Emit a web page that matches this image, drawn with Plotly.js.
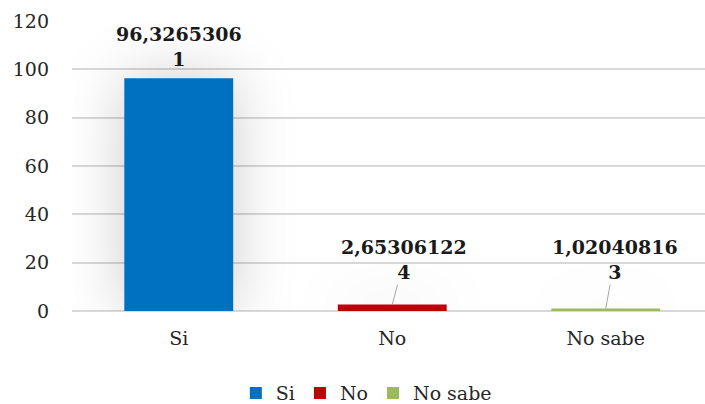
<!DOCTYPE html>
<html>
<head>
<meta charset="utf-8">
<script src="https://cdn.plot.ly/plotly-3.0.1.min.js"></script>
<style>
  html, body { margin: 0; padding: 0; background: #ffffff; }
  #chart { width: 705px; height: 404px; }
  /* soft glow around each bar */
  #chart .trace.bars .point path { filter: drop-shadow(0 0 30px rgba(0,0,0,0.2)); }
</style>
</head>
<body>
<div id="chart"></div>
<script>
const categories = ['Si', 'No', 'No sabe'];
const values = [96.32653061, 2.653061224, 1.020408163];
const colors = ['#0070C0', '#C00000', '#9BBB59'];
const yTicks = [0, 20, 40, 60, 80, 100, 120];

const FONT = '"DejaVu Serif", "Liberation Serif", serif';

// value label: decimal comma, wrapped after ten characters
function labelFor(v) {
  const s = String(v).replace('.', ',');
  return s.slice(0, 10) + '<br>' + s.slice(10);
}

const traces = categories.map((c, i) => ({
  type: 'bar',
  name: c,
  x: [c],
  y: [values[i]],
  width: 0.51,
  marker: { color: colors[i], line: { width: 0 } },
  hoverinfo: 'skip'
}));

// label offsets (pixels) relative to each bar top
const labelOffsets = [
  { arrow: false, ax: 0, ay: -32 },
  { arrow: true, ax: 12, ay: -45 },
  { arrow: true, ax: 9, ay: -49 }
];

const annotations = categories.map((c, i) => {
  const o = labelOffsets[i];
  return {
    x: c, y: values[i], xref: 'x', yref: 'y',
    text: labelFor(values[i]),
    showarrow: true,
    arrowhead: 0,
    arrowwidth: o.arrow ? 1 : 0.01,
    arrowcolor: o.arrow ? '#a6a6a6' : 'rgba(0,0,0,0)',
    ax: o.ax, ay: o.ay,
    standoff: 0,
    font: { family: FONT, size: 19, color: '#1a1a1a', weight: 'bold' },
    align: 'center'
  };
});

const layout = {
  width: 705, height: 404,
  margin: { l: 72, r: 0, t: 21, b: 93, autoexpand: false },
  paper_bgcolor: '#ffffff',
  plot_bgcolor: '#ffffff',
  barmode: 'overlay',
  font: { family: FONT, size: 19, color: '#262626' },
  xaxis: {
    type: 'category',
    categoryorder: 'array',
    categoryarray: categories,
    range: [-0.5, 2.465],
    showgrid: false, zeroline: false, showline: false,
    ticks: '',
    ticklabelstandoff: 14,
    tickfont: { family: FONT, size: 19, color: '#262626' }
  },
  yaxis: {
    range: [0, 120],
    tickvals: yTicks,
    ticktext: yTicks.map(String),
    showgrid: true, gridcolor: '#d9d9d9', gridwidth: 2,
    zeroline: true, zerolinecolor: '#d9d9d9', zerolinewidth: 2,
    showline: false, ticks: '',
    ticklabelstandoff: 22,
    tickfont: { family: FONT, size: 19, color: '#262626' }
  },
  showlegend: true,
  legend: {
    orientation: 'h',
    x: 0.465, xanchor: 'center',
    y: -0.283, yanchor: 'middle',
    itemwidth: 30,
    font: { family: FONT, size: 19, color: '#262626' },
    traceorder: 'normal'
  },
  annotations: annotations
};

Plotly.newPlot('chart', traces, layout, { staticPlot: true, displayModeBar: false });
</script>
</body>
</html>
